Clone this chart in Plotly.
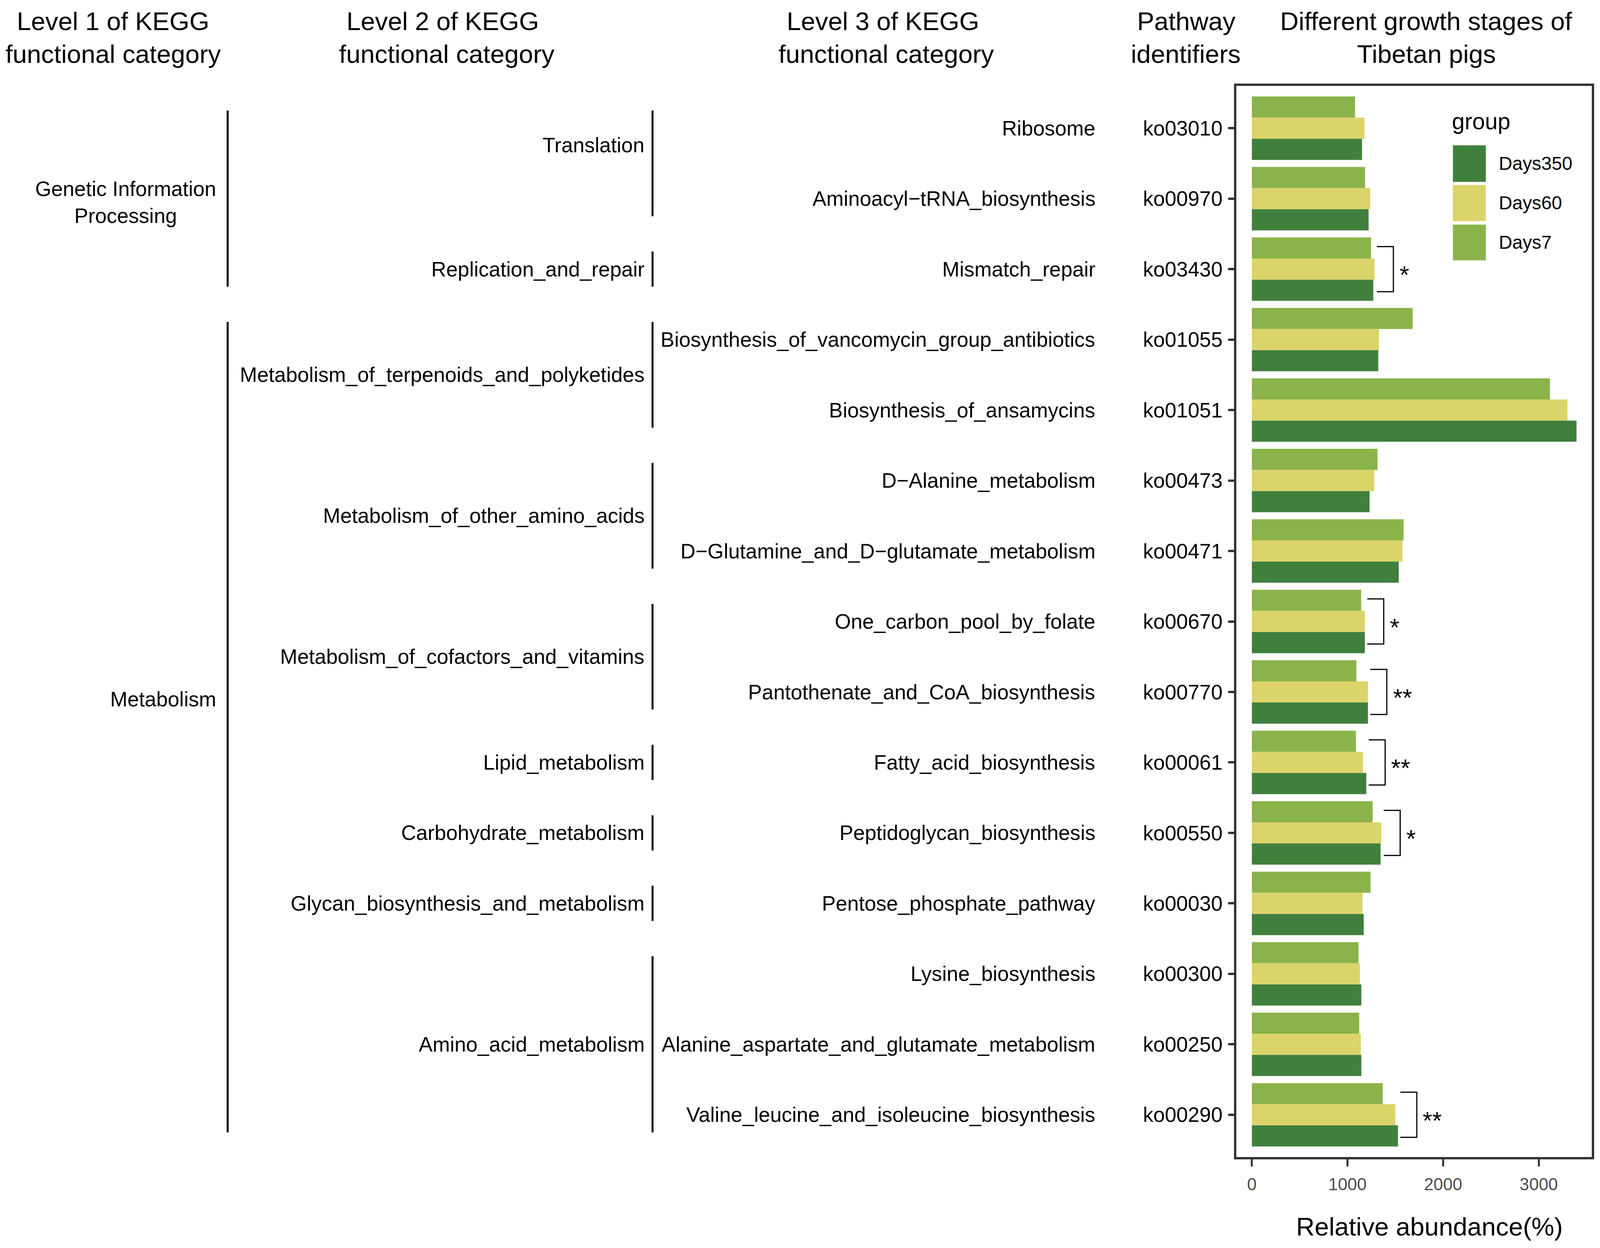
import plotly.graph_objects as go

# ---------------- data ----------------
pathways = [
    "Ribosome",
    "Aminoacyl\u2212tRNA_biosynthesis",
    "Mismatch_repair",
    "Biosynthesis_of_vancomycin_group_antibiotics",
    "Biosynthesis_of_ansamycins",
    "D\u2212Alanine_metabolism",
    "D\u2212Glutamine_and_D\u2212glutamate_metabolism",
    "One_carbon_pool_by_folate",
    "Pantothenate_and_CoA_biosynthesis",
    "Fatty_acid_biosynthesis",
    "Peptidoglycan_biosynthesis",
    "Pentose_phosphate_pathway",
    "Lysine_biosynthesis",
    "Alanine_aspartate_and_glutamate_metabolism",
    "Valine_leucine_and_isoleucine_biosynthesis",
]
ko_ids = ["ko03010", "ko00970", "ko03430", "ko01055", "ko01051", "ko00473", "ko00471",
          "ko00670", "ko00770", "ko00061", "ko00550", "ko00030", "ko00300", "ko00250", "ko00290"]

days7 = [1079, 1184, 1246, 1681, 3117, 1314, 1587, 1143, 1093, 1088, 1263, 1241, 1115, 1123, 1369]
days60 = [1177, 1238, 1283, 1329, 3300, 1280, 1575, 1182, 1214, 1162, 1354, 1157, 1130, 1140, 1501]
days350 = [1152, 1221, 1270, 1322, 3395, 1231, 1536, 1182, 1214, 1197, 1346, 1170, 1145, 1145, 1528]

group_names = ["Days350", "Days60", "Days7"]

level2_names = ["Translation", "Replication_and_repair", "Metabolism_of_terpenoids_and_polyketides",
                "Metabolism_of_other_amino_acids", "Metabolism_of_cofactors_and_vitamins",
                "Lipid_metabolism", "Carbohydrate_metabolism", "Glycan_biosynthesis_and_metabolism",
                "Amino_acid_metabolism"]
level2_first = [0, 2, 3, 5, 7, 9, 10, 11, 12]
level2_last = [1, 2, 4, 6, 8, 9, 10, 11, 14]

level1_names = ["Genetic Information<br>Processing", "Metabolism"]
level1_first = [0, 3]
level1_last = [2, 14]

sig_rows = [2, 7, 8, 9, 10, 14]
sig_labels = ["*", "*", "**", "**", "*", "**"]

x_ticks = [0, 1000, 2000, 3000]
x_title = "Relative abundance(%)"
legend_title = "group"

header_lines = [
    ["Level 1 of KEGG", "functional category"],
    ["Level 2 of KEGG", "functional category"],
    ["Level 3 of KEGG", "functional category"],
    ["Pathway", "identifiers"],
    ["Different growth stages of", "Tibetan pigs"],
]

# ---------------- layout (reference-frame coordinates, 4550 x 3196) ----------------
RW, RH = 4550.0, 3196.0
FONT = "Arial, Liberation Sans, Helvetica, sans-serif"
colors = {"Days350": "#40803C", "Days60": "#DBD46A", "Days7": "#8AB44A"}
FRAME = "#333333"
FS = 0.9  # font scale (viewport is narrower than the reference)

X_DOM = [3521 / RW, 4535 / RW]
Y_DOM = [1 - 2970 / RH, 1 - 213 / RH]
Y0, Y1 = -0.6, 14.6
X_RANGE = [-161, 3553]


def fx(p):
    return p / RW


def fy(p):
    return 1 - p / RH


def row_y(r):
    return Y_DOM[1] - (r - Y0) / (Y1 - Y0) * (Y_DOM[1] - Y_DOM[0])


series = {"Days7": days7, "Days60": days60, "Days350": days350}
rows = list(range(len(pathways)))

fig = go.Figure()
for name in ["Days7", "Days60", "Days350"]:
    fig.add_trace(go.Bar(
        y=rows, x=series[name], orientation="h", name=name,
        marker=dict(color=colors[name], line=dict(width=0)),
        showlegend=False,
    ))

shapes = []
annotations = []


def txt(x, y, text, size, xanchor="center", yanchor="middle", color="black", **kw):
    d = dict(x=x, y=y, xref="paper", yref="paper", text=text, showarrow=False,
             xanchor=xanchor, yanchor=yanchor,
             font=dict(family=FONT, size=size, color=color))
    d.update(kw)
    annotations.append(d)


# column headers
header_x = [[314, 314], [1255, 1267], [2512, 2522], [3378, 3376], [4063, 4063]]
header_y = [47, 131]
for lines, hxs in zip(header_lines, header_x):
    for ln, hx, hy in zip(lines, hxs, header_y):
        txt(fx(hx), fy(hy), ln, 73 * FS)

# level 3 labels
for r, lab in zip(rows, pathways):
    txt(fx(3120), row_y(r), lab, 59 * FS, xanchor="right")

# level 2 labels and bracket lines
label_row_override = {"Translation": 0.24, "Metabolism": 8.1}
for nm, a, b in zip(level2_names, level2_first, level2_last):
    yr = label_row_override.get(nm, (a + b) / 2)
    txt(fx(1833), row_y(yr), nm, 59 * FS, xanchor="right")
    shapes.append(dict(type="line", xref="paper", yref="paper",
                       x0=fx(1854), x1=fx(1854), y0=row_y(a - 0.25), y1=row_y(b + 0.25),
                       line=dict(color="black", width=5)))

# level 1 labels and bracket lines
for nm, a, b in zip(level1_names, level1_first, level1_last):
    key = nm.split("<br>")[0]
    yr = label_row_override.get(key, (a + b) / 2 + 0.05)
    txt(fx(610), row_y(yr), nm, 59 * FS, xanchor="right", align="center")
    shapes.append(dict(type="line", xref="paper", yref="paper",
                       x0=fx(641), x1=fx(641), y0=row_y(a - 0.25), y1=row_y(b + 0.25),
                       line=dict(color="black", width=5)))

# significance brackets
for r, lab in zip(sig_rows, sig_labels):
    top = max(days7[r], days60[r], days350[r])
    xs = top + 25
    xv = xs + 172
    ya, yb = r - 0.32, r + 0.32
    shapes.append(dict(type="path", xref="x", yref="y",
                       path=f"M {xs},{ya} L {xv},{ya} L {xv},{yb} L {xs},{yb}",
                       line=dict(color="black", width=3)))
    annotations.append(dict(
        x=xv + 55, y=r, xref="x", yref="y", text=lab, showarrow=False,
        xanchor="left", yanchor="middle", yshift=-14,
        font=dict(family=FONT, size=70 * FS, color="black")))

# legend (drawn inside the panel like the reference)
txt(fx(4134), fy(304), legend_title, 65 * FS, xanchor="left")
sw_top = [366, 468, 570]
sw_bot = [460, 561, 662]
for nm, t, b in zip(group_names, sw_top, sw_bot):
    shapes.append(dict(type="rect", xref="paper", yref="paper",
                       x0=fx(4139), x1=fx(4233), y0=fy(b), y1=fy(t),
                       fillcolor=colors[nm], line=dict(width=0)))
    txt(fx(4268), fy((t + b) / 2), nm, 53 * FS, xanchor="left")

# x-axis title
txt(fx(4072), fy(3149), x_title, 73 * FS)

fig.update_layout(
    template="none",
    autosize=True,
    margin=dict(l=0, r=0, t=0, b=0, pad=0),
    paper_bgcolor="white", plot_bgcolor="white",
    barmode="group", bargap=0.1, bargroupgap=0,
    font=dict(family=FONT, color="black"),
    shapes=shapes, annotations=annotations,
    showlegend=False,
)
fig.update_yaxes(
    domain=Y_DOM, automargin=False,
    range=[Y1, Y0], tickmode="array", tickvals=rows, ticktext=ko_ids,
    tickfont=dict(family=FONT, size=59 * FS, color="black"),
    ticks="outside", ticklen=15, tickwidth=6, tickcolor=FRAME,
    ticklabelstandoff=4,
    showline=True, mirror=True, linecolor=FRAME, linewidth=6,
    showgrid=False, zeroline=False,
)
fig.update_xaxes(
    domain=X_DOM, automargin=False,
    range=X_RANGE, tickmode="array", tickvals=x_ticks,
    tickfont=dict(family=FONT, size=49 * FS, color="#4D4D4D"),
    ticks="outside", ticklen=18, tickwidth=5, tickcolor=FRAME,
    ticklabelstandoff=8,
    showline=True, mirror=True, linecolor=FRAME, linewidth=6,
    showgrid=False, zeroline=False,
)

fig.write_html("out.html", config={"displayModeBar": False})
